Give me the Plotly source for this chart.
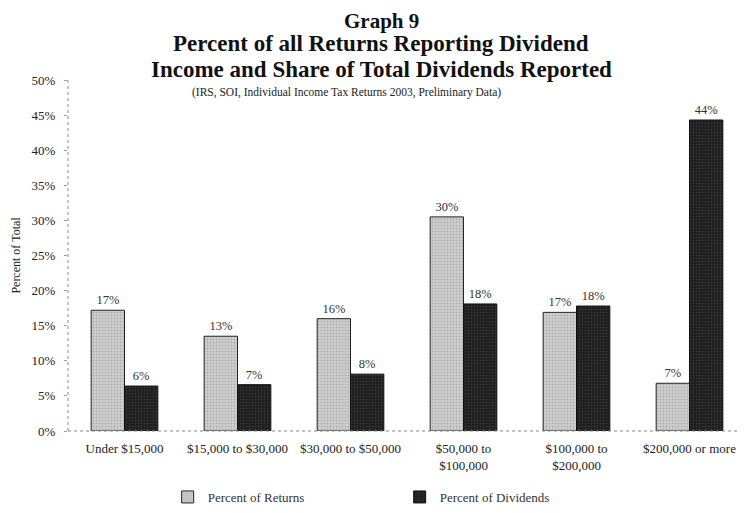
import plotly.graph_objects as go

categories = ["Under $15,000", "$15,000 to $30,000", "$30,000 to $50,000",
              "$50,000 to<br>$100,000", "$100,000 to<br>$200,000", "$200,000 or more"]
pct_returns = [17.2, 13.5, 16.0, 30.5, 16.9, 6.8]
pct_dividends = [6.4, 6.6, 8.1, 18.1, 17.8, 44.3]
labels_returns = ["17%", "13%", "16%", "30%", "17%", "7%"]
labels_dividends = ["6%", "7%", "8%", "18%", "18%", "44%"]

serif = "Liberation Serif, Times New Roman, serif"

fig = go.Figure()
fig.add_trace(go.Bar(
    x=categories, y=pct_returns, name="Percent of Returns",
    text=labels_returns, textposition="outside",
    marker=dict(color="#cfcfcf", line=dict(color="#222", width=1),
                pattern=dict(shape=".", fgcolor="#8a8a8a", size=3, solidity=0.3)),
))
fig.add_trace(go.Bar(
    x=categories, y=pct_dividends, name="Percent of Dividends",
    text=labels_dividends, textposition="outside",
    marker=dict(color="#1c1c1c", line=dict(color="#111", width=1),
                pattern=dict(shape=".", fgcolor="#555", size=3, solidity=0.3)),
))

fig.update_traces(textfont=dict(family=serif, size=12.5, color="#333"), cliponaxis=False)

# the page adds an 8px body margin, so the figure is 8px smaller
fig.update_layout(
    width=738, height=505,
    margin=dict(l=60, r=0, t=72, b=82),
    paper_bgcolor="white", plot_bgcolor="white",
    font=dict(family=serif, size=13, color="#222"),
    barmode="group", bargap=0.41, bargroupgap=0,
    showlegend=True,
    legend=dict(orientation="h", x=0.147, y=-0.188, xanchor="left", yanchor="middle",
                entrywidth=187, entrywidthmode="pixels",
                font=dict(family=serif, size=13, color="#333"),
                itemwidth=30),
    xaxis=dict(showgrid=False, showline=False, ticks="", ticklabelstandoff=8,
               tickfont=dict(family=serif, size=13, color="#222")),
    yaxis=dict(range=[0, 50], dtick=5, ticksuffix="%", showgrid=False,
               zeroline=False, showline=False, ticks="outside", ticklen=3,
               tickcolor="#999", ticklabelstandoff=6, automargin=False,
               tickfont=dict(family=serif, size=13, color="#222"),
               title=dict(text="Percent of Total", standoff=8,
                          font=dict(family=serif, size=12, color="#222"))),
)

# dotted axis lines
fig.add_shape(type="line", xref="paper", yref="paper", x0=0, x1=0, y0=0, y1=1,
              line=dict(color="#888", width=1, dash="dot"))
fig.add_shape(type="line", xref="paper", yref="paper", x0=0, x1=1, y0=0, y1=0,
              line=dict(color="#888", width=1, dash="dot"))

title_lines = [
    ("Graph 9", 1.168, 21),
    ("Percent of all Returns Reporting Dividend", 1.103, 23),
    ("Income and Share of Total Dividends Reported", 1.031, 23),
]
for txt, yy, sz in title_lines:
    fig.add_annotation(text="<b>" + txt + "</b>", xref="paper", yref="paper", x=0.462, y=yy,
                       showarrow=False, xanchor="center", yanchor="middle", borderpad=0,
                       font=dict(family=serif, size=sz, color="#111"))
fig.add_annotation(text="(IRS, SOI, Individual Income Tax Returns 2003, Preliminary Data)",
                   xref="paper", yref="paper", x=0.411, y=0.963, showarrow=False,
                   xanchor="center", yanchor="middle", borderpad=0,
                   font=dict(family=serif, size=11.5, color="#222"))

fig.write_html("out.html")
